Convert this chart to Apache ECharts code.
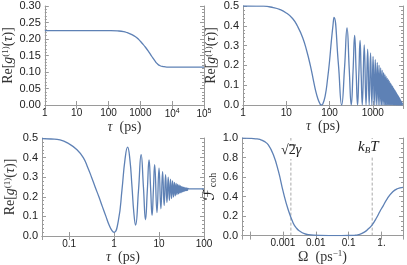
<!DOCTYPE html>
<html><head><meta charset="utf-8">
<script src="https://cdn.jsdelivr.net/npm/echarts@6/dist/echarts.min.js"></script>
<style>html,body{margin:0;padding:0;background:#fff}#c{width:407px;height:265px}</style>
</head><body><div id="c"></div>
<script>
// ---------- Panel 1 (top-left) ----------
const tau1 = [1, 10, 50, 100, 190, 300, 390, 500, 705, 900, 1140, 1450, 1820, 2300, 2950, 3500, 4200, 5200, 6800, 10000, 100000];
const re1  = [0.2255, 0.2255, 0.2255, 0.2253, 0.2245, 0.2225, 0.219, 0.215, 0.207, 0.198, 0.187, 0.175, 0.162, 0.147, 0.132, 0.124, 0.119, 0.1165, 0.115, 0.1148, 0.1148];
const xTicks1 = ['1', '10', '100', '1000', '10{s|4}', '10{s|5}'];   // exponents 0..5
const yTicks1 = [0, 0.05, 0.10, 0.15, 0.20, 0.25, 0.30];

// ---------- Panel 2 (top-right) ----------
const p2Start = [[1,0.5],[2,0.4995],[3,0.499],[5,0.492],[7,0.483],[10,0.465],[14,0.437],[18,0.40],[24,0.34],[30,0.27],[36,0.20],[42,0.13],[48,0.07],[54,0.03],[60,0.007],[64,0.0],[70,0.005],[80,0.05],[90,0.13],[100,0.22],[110,0.32],[120,0.40],
  [127,0.443],[160,0.21],[191,0.0],[223,0.19],[254,0.39],[286,0.18],[318,0.0],[350,0.17],[381,0.352],[413,0.165],[445,0.0],[477,0.16],[508,0.326],[540,0.15],[572,0.0]];
const p2Peaks = [[635,0.303],[762,0.282],[889,0.263],[1016,0.245],[1143,0.229],[1270,0.214],[1397,0.200],[1524,0.187],[1651,0.175],[1778,0.164],[1905,0.154],[2032,0.145],[2159,0.136],[2286,0.128],[2413,0.120],[2540,0.112],[2667,0.105],[2794,0.098],[2921,0.091],[3048,0.084],[3175,0.078],[3302,0.072],[3429,0.066],[3556,0.060],[3683,0.054],[3810,0.049],[3937,0.043],[4064,0.038],[4191,0.033],[4318,0.028],[4445,0.023],[4572,0.018],[4699,0.013],[4826,0.008],[4953,0.003]];
const p2Troughs = [[699,0],[826,0],[953,0],[1080,0],[1207,0],[1334,0],[1461,0],[1588,0],[1715,0],[1842,0],[1969,0],[2096,0],[2223,0],[2350,0],[2477,0],[2604,0],[2731,0],[2858,0],[2985,0],[3112,0],[3239,0],[3366,0],[3493,0],[3620,0],[3747,0],[3874,0],[4001,0],[4128,0],[4255,0],[4382,0],[4509,0],[4636,0],[4763,0],[4890,0],[5000,0]];
const xTicks2 = ['1', '10', '100', '1000'];
const yTicks2 = [0, 0.1, 0.2, 0.3, 0.4, 0.5];

// ---------- Panel 3 (bottom-left) ----------
const p3 = [[0.025,0.497],[0.04,0.495],[0.063,0.49],[0.097,0.472],[0.15,0.44],[0.207,0.40],[0.26,0.35],[0.316,0.30],[0.38,0.25],[0.46,0.20],[0.55,0.15],[0.66,0.10],[0.78,0.055],[0.9,0.027],
  [1.0,0.018],[1.25,0.08],[1.5,0.235],[1.75,0.39],[2.0,0.453],[2.25,0.39],[2.5,0.255],[2.75,0.12],[3.0,0.055],[3.5,0.235],[4.0,0.415],[4.5,0.25],[5.0,0.083],[5.5,0.236],[6.0,0.388],[6.5,0.245],[7.0,0.105],[7.5,0.236],[8.0,0.364],
  [9,0.120],[10,0.346],[11,0.139],[12,0.328],[13,0.156],[14,0.313],[15,0.170],[16,0.300],[17,0.181],[18,0.290],[19,0.191],[20,0.281],[21,0.199],[22,0.274],[23,0.205],[24,0.268],[25,0.211],[26,0.263],[27,0.215],[28,0.259],[29,0.219],[30,0.255],[31,0.222],[32,0.252],[33,0.225],[34,0.250],[35,0.227],[36,0.248],[37,0.229],[38,0.246],[39,0.231],[40,0.245],[41,0.232],[42,0.244],[43,0.233],[44,0.243],[46,0.241],[50,0.240],[100,0.240]];
const xTicks3 = {'-1':'0.1', '0':'1', '1':'10', '2':'100'};
const yTicks3 = [0, 0.1, 0.2, 0.3, 0.4, 0.5];

// ---------- Panel 4 (bottom-right) ----------
const omega4 = [5.7e-5, 1e-4, 1.5e-4, 2e-4, 2.7e-4, 3.6e-4, 5.1e-4, 7.3e-4, 1.02e-3, 1.45e-3, 2.05e-3, 2.6e-3, 3.3e-3, 4.5e-3, 5.9e-3, 0.013, 0.03, 0.06, 0.1, 0.15, 0.2, 0.3, 0.4, 0.52, 0.7, 0.9, 1.1, 1.5, 2.2, 3.0, 4.5];
const fcoh4  = [0.998, 0.996, 0.992, 0.985, 0.965, 0.93, 0.83, 0.66, 0.45, 0.265, 0.13, 0.075, 0.045, 0.02, 0.01, 0.002, 0.0005, 0.0003, 0.001, 0.003, 0.01, 0.035, 0.07, 0.11, 0.18, 0.25, 0.30, 0.38, 0.45, 0.48, 0.495];
const marks4 = [0.00175, 0.52];   // √2γ and k_B T
const xTicks4 = {'-3':'0.001', '-2':'0.01', '-1':'0.1', '0':'1.'};
const yTicks4 = [0, 0.2, 0.4, 0.6, 0.8, 1.0];

// ---------- styling ----------
const FRAME = '#9a9a9a';
const LINE = '#5e81b5';
const SANS = '"Liberation Sans", Arial, sans-serif';
const SERIF = '"Liberation Serif", "DejaVu Serif", serif';

function logFmt(map){
  return function(v){
    const l = Math.log10(v), e = Math.round(l);
    if (Math.abs(l - e) > 1e-6) return '';
    const s = map[e] !== undefined ? map[e] : map[String(e)];
    return s === undefined ? '' : s;
  };
}
function yFmt(list, dec){
  return function(v){
    for (const t of list) if (Math.abs(t - v) < 1e-9) return t.toFixed(dec);
    return '';
  };
}
const grids = [
  {left:43, top:6, width:161, height:99},
  {left:243, top:6, width:160, height:99},
  {left:42, top:138, width:162, height:98},
  {left:242, top:138, width:161, height:98}
];
const xExt = [[1,100000],[1,5000],[0.025,100],[5.7e-5,4.5]];
const xMaps = [xTicks1, xTicks2, xTicks3, xTicks4];
const yCfg = [
  {max:0.3, interval:0.05, list:yTicks1, dec:2, minor:5},
  {max:0.5, interval:0.1, list:yTicks2, dec:1, minor:5},
  {max:0.5, interval:0.1, list:yTicks3, dec:1, minor:5},
  {max:1.0, interval:0.2, list:yTicks4, dec:1, minor:4}
];
const xNames = [
  '{i|τ}  (ps)', '{i|τ}  (ps)', '{i|τ}  (ps)', 'Ω  (ps{s|−1})'
];
const yNames = [
  'Re[{i|g}{s|(1)}({i|τ})]', 'Re[{i|g}{s|(1)}({i|τ})]', 'Re[{i|g}{s|(1)}({i|τ})]', '{f|ℱ}{b|coh}'
];
const nameRich = {
  i:{fontFamily:SERIF, fontStyle:'italic', fontSize:14, color:'#333'},
  s:{fontFamily:SERIF, fontSize:9, color:'#333', verticalAlign:'top', padding:[0,0,6,0]},
  b:{fontFamily:SERIF, fontSize:10, color:'#333', padding:[7,0,0,1]},
  f:{fontFamily:'"DejaVu Sans", "DejaVu Serif", serif', fontSize:16, color:'#222'}
};
const xAxes = [], yAxes = [];
for (let g = 0; g < 4; g++){
  const common = {
    type:'log', logBase:10, gridIndex:g, min:xExt[g][0], max:xExt[g][1],
    axisLine:{show:true, lineStyle:{color:FRAME, width:1}},
    axisTick:{show:true, inside:true, length:4, lineStyle:{color:FRAME}},
    splitLine:{show:false}
  };
  xAxes.push(Object.assign({}, common, {
    position:'bottom',
    axisLabel:{formatter:logFmt(xMaps[g]), fontSize:10, color:'#222', fontFamily:SANS, margin:3,
      showMinLabel:true, showMaxLabel:true,
      rich:{s:{fontSize:7, fontFamily:SANS, color:'#222', verticalAlign:'top', padding:[0,0,5,0]}}},
    name:xNames[g], nameLocation:'middle', nameGap:(g===3?8:5),
    nameTextStyle:{fontFamily:SERIF, fontSize:14, color:'#333', rich:nameRich}
  }));
  xAxes.push(Object.assign({}, common, {position:'top', axisLabel:{show:false}}));
  const yc = yCfg[g];
  const ycommon = {
    type:'value', gridIndex:g, min:0, max:yc.max, interval:yc.interval,
    axisLine:{show:true, lineStyle:{color:FRAME, width:1}},
    axisTick:{show:true, inside:true, length:4, lineStyle:{color:FRAME}},
    minorTick:{show:true, splitNumber:yc.minor, length:2, lineStyle:{color:FRAME}},
    splitLine:{show:false}
  };
  yAxes.push(Object.assign({}, ycommon, {
    position:'left',
    axisLabel:{formatter:yFmt(yc.list, yc.dec), fontSize:11, color:'#222', fontFamily:SANS, margin:4},
    name:yNames[g], nameLocation:'middle', nameGap:(g===3?17:24), nameRotate:90,
    nameTextStyle:{fontFamily:SERIF, fontSize:14, color:'#333', rich:nameRich}
  }));
  yAxes.push(Object.assign({}, ycommon, {position:'right', axisLabel:{show:false}}));
}
function zip(a, b){ return a.map((x, i) => [x, b[i]]); }
const p2 = p2Start.concat(p2Peaks.flatMap((p, i) => [p, p2Troughs[i]]));
const seriesData = [zip(tau1, re1), p2, p3, zip(omega4, fcoh4)];
const series = [];
// dashed reference lines (drawn first, under the curve)
marks4.forEach(v => series.push({
  type:'line', xAxisIndex:6, yAxisIndex:6, data:[[v, 0], [v, 1]], showSymbol:false, silent:true,
  lineStyle:{color:'#a8a8a8', width:1, type:[3,2]}, itemStyle:{color:'#a8a8a8'}, z:1, animation:false
}));
seriesData.forEach((d, g) => series.push({
  type:'line', xAxisIndex:2*g, yAxisIndex:2*g, data:d, showSymbol:false, smooth:true,
  lineStyle:{color:LINE, width:1.3}, itemStyle:{color:LINE}, z:3, animation:false
}));
const chart = echarts.init(document.getElementById('c'));
chart.setOption({
  animation:false,
  grid:grids,
  xAxis:xAxes, yAxis:yAxes, series:series,
  graphic:[
    {type:'text', left:280, top:142, z:10, style:{text:'√2{i|γ}', fontFamily:SERIF, fontSize:14, fill:'#222',
      backgroundColor:'#fff', padding:[1,1,2,1],
      rich:{i:{fontFamily:SERIF, fontStyle:'italic', fontSize:14, fill:'#222'}}}},
    {type:'line', z:11, shape:{x1:289, y1:145, x2:296, y2:145}, style:{stroke:'#222', lineWidth:0.9}},
    {type:'text', left:357, top:139, z:10, style:{text:'{i|k}{b|B}{i|T}', fontFamily:SERIF, fontSize:14, fill:'#222',
      backgroundColor:'#fff', padding:[1,1,2,1],
      rich:{i:{fontFamily:SERIF, fontStyle:'italic', fontSize:15, fill:'#222'}, b:{fontFamily:SERIF, fontStyle:'italic', fontSize:9, fill:'#222', padding:[6,0,0,0]}}}}
  ]
});
</script></body></html>
